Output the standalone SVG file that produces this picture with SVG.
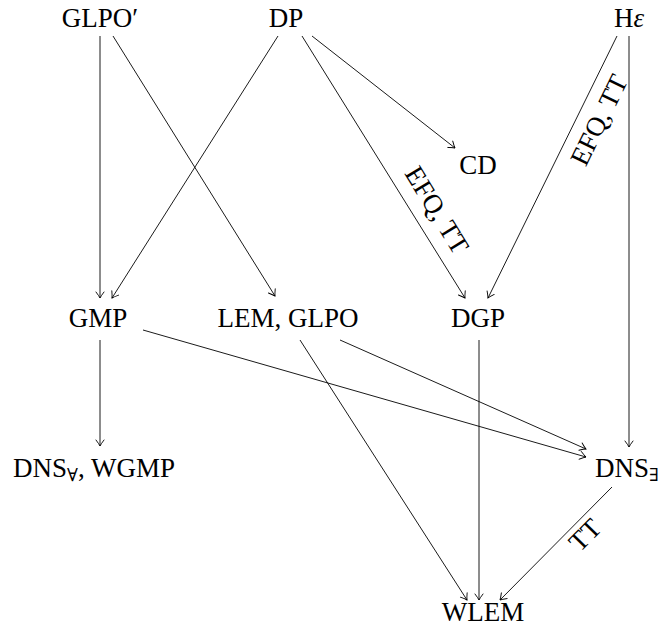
<svg xmlns="http://www.w3.org/2000/svg" width="662" height="636" viewBox="0 0 662 636">
<style>
  text { font-family: "Liberation Serif", "DejaVu Serif", serif; font-size: 27px; fill: #000; }
  .n { text-anchor: middle; }
  .e { stroke: #000; stroke-width: 0.9; fill: none; marker-end: url(#to); }
  .sub { font-size: 18px; }
</style>
<defs>
  <marker id="to" markerUnits="userSpaceOnUse" viewBox="-8 -5 10 10" refX="0" refY="0" markerWidth="10" markerHeight="10" orient="auto" overflow="visible">
    <path d="M -6 -4 Q -2 -1 0 0 Q -2 1 -6 4" fill="none" stroke="#000" stroke-width="0.9" stroke-linecap="round"/>
  </marker>
</defs>
<rect width="662" height="636" fill="#fff"/>
<g id="connectors">
  <line class="e" x1="100" y1="36" x2="100" y2="298"/>
  <line class="e" x1="113" y1="36" x2="275" y2="296"/>
  <line class="e" x1="278" y1="36" x2="112" y2="298"/>
  <line class="e" x1="302" y1="36" x2="465" y2="298"/>
  <line class="e" x1="312" y1="36" x2="455" y2="148"/>
  <line class="e" x1="617" y1="36" x2="488" y2="298"/>
  <line class="e" x1="629" y1="36" x2="629" y2="447"/>
  <line class="e" x1="100" y1="340" x2="100" y2="446"/>
  <line class="e" x1="143" y1="330" x2="586" y2="457"/>
  <line class="e" x1="340" y1="340" x2="586" y2="449"/>
  <line class="e" x1="300" y1="340" x2="467" y2="600"/>
  <line class="e" x1="479" y1="340" x2="479" y2="600"/>
  <line class="e" x1="612" y1="487" x2="500" y2="600"/>
  <g transform="translate(437,210) rotate(58.5)"><text class="n" x="0" y="9">EFQ, TT</text></g>
  <g transform="translate(599,120) rotate(-63.9)"><text class="n" x="0" y="9">EFQ, TT</text></g>
  <g transform="translate(585,535) rotate(-45.5)"><text class="n" x="0" y="9">TT</text></g>
</g>
<g id="GLPOp"><text class="n" x="100" y="27">GLPO′</text></g>
<g id="DP"><text class="n" x="286" y="27">DP</text></g>
<g id="He"><text class="n" x="629" y="27">H<tspan font-style="italic">ε</tspan></text></g>
<g id="CD"><text class="n" x="478" y="174">CD</text></g>
<g id="GMP"><text class="n" x="98" y="327">GMP</text></g>
<g id="LEMGLPO"><text class="n" x="288" y="327">LEM, GLPO</text></g>
<g id="DGP"><text class="n" x="478" y="327">DGP</text></g>
<g id="DNSall"><text x="13" y="477">DNS<tspan class="sub" dy="4">∀</tspan><tspan dy="-4">, WGMP</tspan></text></g>
<g id="DNSex"><text x="595" y="477">DNS<tspan class="sub" dy="4">∃</tspan></text></g>
<g id="WLEM"><text class="n" x="483" y="621">WLEM</text></g>
</svg>
